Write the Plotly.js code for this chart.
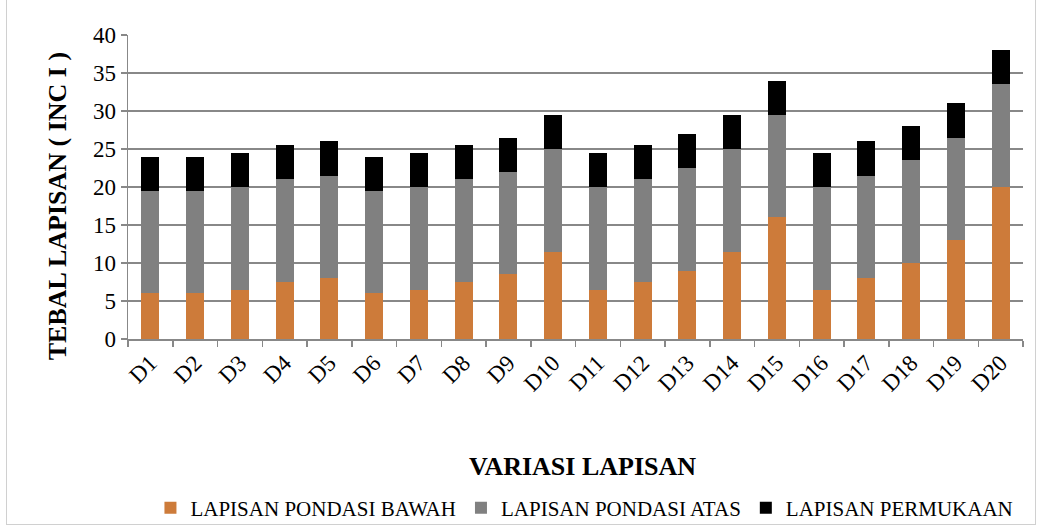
<!DOCTYPE html>
<html>
<head>
<meta charset="utf-8">
<script src="https://cdn.plot.ly/plotly-3.0.1.min.js"></script>
<style>
html,body{margin:0;padding:0;background:#fff;}
#frame{position:absolute;left:6px;top:-2px;width:1030px;height:527px;border:1px solid #d0d0d0;box-sizing:border-box;}
#chart{position:absolute;left:0;top:0;width:1042px;height:531px;}
</style>
</head>
<body>
<div id="frame"></div>
<div id="chart"></div>
<script>
const categories = ["D1","D2","D3","D4","D5","D6","D7","D8","D9","D10","D11","D12","D13","D14","D15","D16","D17","D18","D19","D20"];
const pondasiBawah = [6,6,6.5,7.5,8,6,6.5,7.5,8.5,11.5,6.5,7.5,9,11.5,16,6.5,8,10,13,20];
const pondasiAtas = [13.5,13.5,13.5,13.5,13.5,13.5,13.5,13.5,13.5,13.5,13.5,13.5,13.5,13.5,13.5,13.5,13.5,13.5,13.5,13.5];
const permukaan = [4.5,4.5,4.5,4.5,4.5,4.5,4.5,4.5,4.5,4.5,4.5,4.5,4.5,4.5,4.5,4.5,4.5,4.5,4.5,4.5];
const seriesNames = ["LAPISAN PONDASI BAWAH","LAPISAN PONDASI ATAS","LAPISAN PERMUKAAN"];
const yTicks = [0,5,10,15,20,25,30,35,40];

const font = "'Liberation Serif', 'Times New Roman', serif";
const colors = ["#CD7B3A","#808080","#000000"];
const data = [pondasiBawah, pondasiAtas, permukaan].map((v,i)=>({
  type:"bar", x:categories, y:v, name:seriesNames[i],
  marker:{color:colors[i], line:{width:0}},
  hoverinfo:"x+y+name"
}));

const layout = {
  width:1042, height:531,
  margin:{l:128, r:19, t:35, b:192},
  paper_bgcolor:"rgba(0,0,0,0)", plot_bgcolor:"rgba(0,0,0,0)",
  barmode:"stack", bargap:0.6,
  font:{family:font, color:"#000"},
  showlegend:true,
  legend:{orientation:"h", x:0.51, xanchor:"center", yref:"container", y:0.043, yanchor:"middle",
          font:{family:font, size:21, color:"#000"}, traceorder:"normal",
          itemwidth:30, itemsizing:"constant"},
  xaxis:{
    type:"category", tickangle:-45, tickfont:{family:font, size:23, color:"#000"},
    showline:true, linecolor:"#888", linewidth:1.5,
    ticks:"outside", tickson:"boundaries", ticklen:6, tickcolor:"#888", tickwidth:1.5,
    showgrid:false, zeroline:false, fixedrange:true
  },
  yaxis:{
    range:[0,40], tickvals:yTicks, tickfont:{family:font, size:23, color:"#000"},
    showline:true, linecolor:"#888", linewidth:1.5,
    ticks:"outside", ticklen:6, tickcolor:"#888", tickwidth:1.5,
    showgrid:true, gridcolor:"#888", gridwidth:1.5, zeroline:false, fixedrange:true
  },
  annotations:[
    {text:"<b>TEBAL LAPISAN ( INC I )</b>", xref:"paper", yref:"paper", x:-0.079, y:0.4375,
     xanchor:"center", yanchor:"middle", textangle:-90, showarrow:false,
     font:{family:font, size:26, color:"#000"}},
    {text:"<b>VARIASI LAPISAN</b>", xref:"paper", yref:"paper", x:0.508, y:-0.421,
     xanchor:"center", yanchor:"middle", showarrow:false,
     font:{family:font, size:26, color:"#000"}}
  ]
};
Plotly.newPlot("chart", data, layout, {displayModeBar:false, staticPlot:true});
</script>
</body>
</html>
